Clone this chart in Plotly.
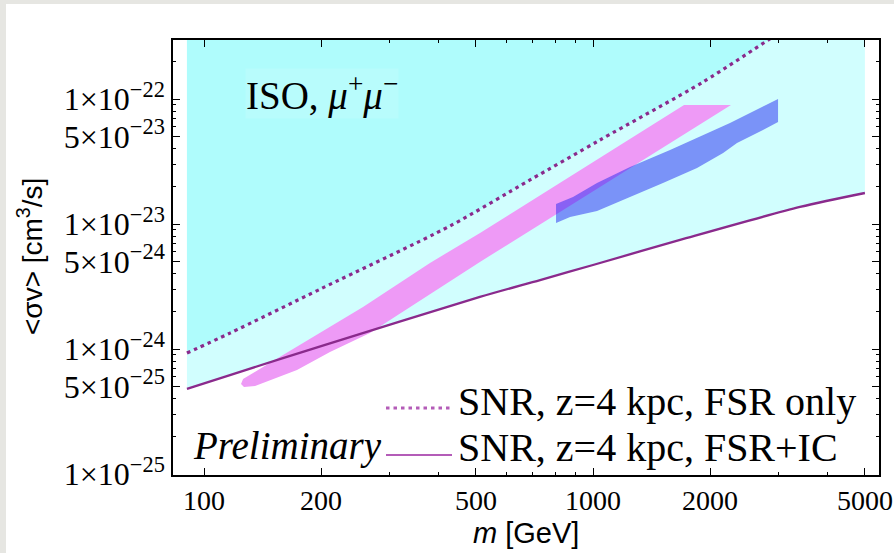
import plotly.graph_objects as go

# ---------------- data ----------------
# dotted curve: SNR, z=4 kpc, FSR only
m_fsr = [90.4, 116.6, 201, 428.8, 688.7, 1042, 1918, 2818, 3000]
sv_fsr = [9.29e-25, 1.34e-24, 3.06e-24, 9.64e-24, 2.25e-23, 4.70e-23, 1.368e-22, 2.96e-22, 3.37e-22]

# solid curve: SNR, z=4 kpc, FSR+IC
m_ic = [90.4, 116.6, 201, 512, 731, 1000, 1674, 3405, 5000]
sv_ic = [4.79e-25, 6.19e-25, 1.06e-24, 2.61e-24, 3.56e-24, 4.7e-24, 7.45e-24, 1.368e-23, 1.77e-23]

# magenta band (polygon outline)
m_mag = [124.5, 126, 141.8, 173.4, 256.3, 381, 512.4, 1714, 2263,
         1042, 512, 267, 210.8, 173.4, 135.3, 126.7]
sv_mag = [5.25e-25, 5.75e-25, 7.18e-25, 1.04e-24, 2.17e-24, 4.88e-24, 8.47e-24, 8.95e-23, 8.95e-23,
          1.98e-23, 4.97e-24, 1.34e-24, 9.46e-25, 6.79e-25, 5.06e-25, 4.97e-25]

# blue region (polygon outline)
m_blue = [803.5, 888.4, 1024, 1245, 1578, 1851, 2250, 2990,
          2990, 2735, 2345, 2160, 1851, 1513, 1245, 1024, 873, 803.5]
sv_blue = [1.445e-23, 1.644e-23, 2.13e-23, 2.86e-23, 3.91e-23, 4.88e-23, 6.43e-23, 1.0e-22,
           6.55e-23, 5.65e-23, 4.45e-23, 3.70e-23, 2.81e-23, 2.13e-23, 1.644e-23, 1.27e-23, 1.14e-23, 1.02e-23]

# region edges
m_region = [90.4, 5000]
sv_ceiling = 4e-22

# ticks
x_tickvals = [100, 200, 500, 1000, 2000, 5000]
x_ticktext = ["100", "200", "500", "1000", "2000", "5000"]
x_minor = [300, 400, 600, 700, 800, 900, 3000, 4000]
y_tickvals = [1e-25, 5e-25, 1e-24, 5e-24, 1e-23, 5e-23, 1e-22]
y_ticktext = ["1×10<sup>−25</sup>", "5×10<sup>−25</sup>", "1×10<sup>−24</sup>", "5×10<sup>−24</sup>",
              "1×10<sup>−23</sup>", "5×10<sup>−23</sup>", "1×10<sup>−22</sup>"]
y_minor = [k * 10.0 ** e for e in (-25, -24, -23, -22) for k in (2, 3, 4, 6, 7, 8, 9)]

# ---------------- layout geometry ----------------
W, H = 894, 553
L, R, T, B = 173, 15, 40, 78
PW, PH = W - L - R, H - T - B


def px(x):
    return (x - L) / PW


def py(y):
    return (H - B - y) / PH


PURPLE = "#8a2a8c"
LEG = "#b45cb8"
SERIF = "Liberation Serif, Times New Roman, serif"
SANS = "Liberation Sans, Arial, sans-serif"

fig = go.Figure()

# light cyan region (above solid curve)
fig.add_trace(go.Scatter(x=m_region, y=[sv_ceiling, sv_ceiling], mode="lines",
                         line=dict(width=0), hoverinfo="skip", showlegend=False))
fig.add_trace(go.Scatter(x=m_ic, y=sv_ic, mode="lines", line=dict(width=0, shape="spline", smoothing=0.8),
                         fill="tonexty", fillcolor="#d1fefe", hoverinfo="skip", showlegend=False))
# dark cyan region (above dotted curve)
fig.add_trace(go.Scatter(x=[m_fsr[0], m_fsr[-1]], y=[sv_ceiling, sv_ceiling], mode="lines",
                         line=dict(width=0), hoverinfo="skip", showlegend=False))
fig.add_trace(go.Scatter(x=m_fsr, y=sv_fsr, mode="lines", line=dict(width=0, shape="spline", smoothing=0.8),
                         fill="tonexty", fillcolor="#affcfc", hoverinfo="skip", showlegend=False))

# magenta band
fig.add_trace(go.Scatter(x=m_mag, y=sv_mag, mode="lines", fill="toself", fillcolor="#ee9af6",
                         line=dict(width=0), hoverinfo="skip", showlegend=False))
# blue region
fig.add_trace(go.Scatter(x=m_blue, y=sv_blue, mode="lines", fill="toself", fillcolor="rgba(35,40,242,0.5)",
                         line=dict(width=0), hoverinfo="skip", showlegend=False))

# curves
fig.add_trace(go.Scatter(x=m_fsr, y=sv_fsr, mode="lines",
                         line=dict(color=PURPLE, width=3.2, dash="3.5px,4px", shape="spline", smoothing=0.8),
                         hoverinfo="skip", showlegend=False))
fig.add_trace(go.Scatter(x=m_ic, y=sv_ic, mode="lines",
                         line=dict(color=PURPLE, width=2.3, shape="spline", smoothing=0.8),
                         hoverinfo="skip", showlegend=False))

axis_common = dict(showline=True, linecolor="black", linewidth=1.5, mirror="ticks",
                   ticks="inside", tickcolor="black", tickwidth=1.3, ticklen=7,
                   showgrid=False, zeroline=False, automargin=False)

fig.update_xaxes(type="log", range=[1.9203, 3.7352], tickmode="array",
                 tickvals=x_tickvals, ticktext=x_ticktext,
                 tickfont=dict(family=SERIF, size=28, color="black"),
                 minor=dict(tickmode="array", tickvals=x_minor, ticks="inside", ticklen=3.5,
                            tickcolor="black", tickwidth=1, showgrid=False),
                 **axis_common)
fig.update_yaxes(type="log", range=[-25.008, -21.528], tickmode="array",
                 tickvals=y_tickvals, ticktext=y_ticktext,
                 tickfont=dict(family=SERIF, size=32, color="black"),
                 minor=dict(tickmode="array", tickvals=y_minor, ticks="inside", ticklen=3.5,
                            tickcolor="black", tickwidth=1, showgrid=False),
                 **axis_common)

annotations = [
    dict(x=px(526), y=py(533), text="<i>m</i> [GeV]", font=dict(family=SANS, size=29, color="black"),
         xanchor="center", yanchor="middle"),
    dict(x=px(30), y=py(257), text="&lt;σv&gt; [cm<sup>3</sup>/s]", textangle=-90,
         font=dict(family=SANS, size=28, color="black"), xanchor="center", yanchor="middle"),
    dict(x=px(245), y=py(93), text="ISO, <i>μ</i><sup>+</sup><i>μ</i><sup>−</sup>",
         font=dict(family=SERIF, size=39, color="black"), xanchor="left", yanchor="middle",
         bgcolor="#b8fcfc", borderpad=0),
    dict(x=px(191), y=py(446), text="<i>Preliminary</i>",
         font=dict(family=SERIF, size=39, color="black"), xanchor="left", yanchor="middle"),
    dict(x=px(456), y=py(401), text="SNR, z=4 kpc, FSR only",
         font=dict(family=SERIF, size=40, color="black"), xanchor="left", yanchor="middle"),
    dict(x=px(456), y=py(447), text="SNR, z=4 kpc, FSR+IC",
         font=dict(family=SERIF, size=40, color="black"), xanchor="left", yanchor="middle"),
]
for a in annotations:
    a.update(xref="paper", yref="paper", showarrow=False)

shapes = [
    # page border strips
    dict(type="rect", xref="paper", yref="paper", x0=px(0), x1=px(6), y0=py(H), y1=py(0),
         fillcolor="#e6e6e2", line=dict(width=0), layer="above"),
    dict(type="rect", xref="paper", yref="paper", x0=px(0), x1=px(W), y0=py(4), y1=py(0),
         fillcolor="#e6e6e2", line=dict(width=0), layer="above"),
    # legend samples
    dict(type="line", xref="paper", yref="paper", x0=px(386), x1=px(452), y0=py(408), y1=py(408),
         line=dict(color=LEG, width=3, dash="3.5px,4px")),
    dict(type="line", xref="paper", yref="paper", x0=px(386), x1=px(452), y0=py(455), y1=py(455),
         line=dict(color=LEG, width=2.2)),
]

fig.update_layout(width=W, height=H, margin=dict(l=L, r=R, t=T, b=B, autoexpand=False),
                  paper_bgcolor="white", plot_bgcolor="white",
                  annotations=annotations, shapes=shapes, showlegend=False)

fig.write_html("out.html", config={"displayModeBar": False},
               post_script="document.body.style.margin='0';document.body.style.overflow='hidden';")
